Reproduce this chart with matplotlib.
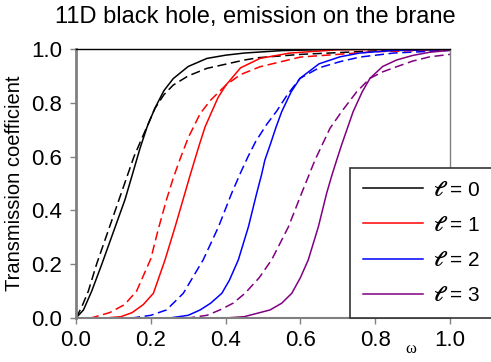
import matplotlib
matplotlib.use("Agg")
import matplotlib.pyplot as plt
from matplotlib.lines import Line2D

plt.rcParams["font.family"] = ["Liberation Sans", "DejaVu Sans"]
plt.rcParams["mathtext.fontset"] = "dejavuserif"

# ---- data (omega, transmission) ----
# solid = one set of curves, dashed = the other, per angular momentum l
l0_w = [0, 0.02, 0.042, 0.069, 0.1, 0.131, 0.15, 0.171, 0.19, 0.211, 0.235,
        0.26, 0.3, 0.35, 0.4, 0.45, 0.55, 0.7, 1.0]
l0_t = [0, 0.03, 0.1, 0.2, 0.32, 0.44, 0.53, 0.63, 0.71, 0.78, 0.845,
        0.89, 0.935, 0.965, 0.977, 0.985, 0.994, 0.999, 1.0]
l0d_w = [0, 0.015, 0.033, 0.055, 0.08, 0.105, 0.13, 0.155, 0.18, 0.211, 0.235,
         0.26, 0.3, 0.35, 0.45, 0.49, 0.6, 0.8, 1.0]
l0d_t = [0, 0.04, 0.1, 0.2, 0.3, 0.4, 0.5, 0.6, 0.68, 0.779, 0.83,
         0.866, 0.9, 0.928, 0.959, 0.968, 0.98, 0.993, 0.998]

l1_w = [0, 0.08, 0.12, 0.15, 0.18, 0.207, 0.238, 0.265, 0.291, 0.305, 0.318,
        0.33, 0.345, 0.363, 0.38, 0.401, 0.44, 0.492, 0.572, 0.7, 1.0]
l1_t = [0, 0, 0.005, 0.02, 0.05, 0.092, 0.216, 0.339, 0.463, 0.53, 0.59,
        0.645, 0.71, 0.767, 0.82, 0.866, 0.93, 0.965, 0.985, 0.997, 1.0]
l1d_w = [0, 0.04, 0.09, 0.13, 0.162, 0.2, 0.22, 0.242, 0.26, 0.278, 0.3,
         0.332, 0.36, 0.401, 0.44, 0.492, 0.6, 0.8, 1.0]
l1d_t = [0, 0, 0.02, 0.05, 0.1, 0.22, 0.33, 0.44, 0.52, 0.59, 0.67,
         0.76, 0.81, 0.866, 0.905, 0.934, 0.97, 0.99, 0.997]

l2_w = [0, 0.25, 0.3, 0.332, 0.36, 0.39, 0.41, 0.434, 0.461, 0.483, 0.496,
        0.505, 0.519, 0.535, 0.55, 0.575, 0.599, 0.65, 0.706, 0.759, 0.85, 1.0]
l2_t = [0, 0, 0.01, 0.03, 0.055, 0.092, 0.14, 0.216, 0.339, 0.463, 0.532,
        0.587, 0.643, 0.71, 0.767, 0.84, 0.891, 0.945, 0.971, 0.985, 0.995, 1.0]
l2d_w = [0, 0.15, 0.2, 0.242, 0.287, 0.34, 0.381, 0.416, 0.44, 0.46, 0.48,
         0.51, 0.537, 0.565, 0.599, 0.65, 0.706, 0.759, 0.85, 1.0]
l2d_t = [0, 0, 0.01, 0.03, 0.092, 0.216, 0.339, 0.463, 0.54, 0.6, 0.655,
         0.72, 0.77, 0.83, 0.891, 0.93, 0.953, 0.97, 0.985, 0.995]

l3_w = [0, 0.4, 0.45, 0.519, 0.55, 0.577, 0.6, 0.621, 0.648, 0.67, 0.684,
        0.697, 0.71, 0.741, 0.765, 0.786, 0.82, 0.857, 0.9, 0.946, 1.0]
l3_t = [0, 0, 0.005, 0.03, 0.055, 0.092, 0.15, 0.216, 0.339, 0.463, 0.53,
        0.587, 0.643, 0.767, 0.84, 0.891, 0.935, 0.959, 0.976, 0.988, 0.995]
l3d_w = [0, 0.3, 0.35, 0.385, 0.42, 0.452, 0.49, 0.523, 0.568, 0.603, 0.639,
         0.679, 0.71, 0.75, 0.786, 0.82, 0.857, 0.9, 0.946, 1.0]
l3d_t = [0, 0, 0.01, 0.03, 0.055, 0.092, 0.15, 0.216, 0.339, 0.463, 0.587,
         0.705, 0.767, 0.84, 0.891, 0.915, 0.934, 0.955, 0.971, 0.98]

labels = [r"$\mathbf{\ell}$ = 0", r"$\mathbf{\ell}$ = 1",
          r"$\mathbf{\ell}$ = 2", r"$\mathbf{\ell}$ = 3"]
colors = ["black", "#ff0000", "#0000ff", "#800080"]
x_ticks = [0.0, 0.2, 0.4, 0.6, 0.8, 1.0]
y_ticks = [0.0, 0.2, 0.4, 0.6, 0.8, 1.0]

solid = [(l0_w, l0_t), (l1_w, l1_t), (l2_w, l2_t), (l3_w, l3_t)]
dashed = [(l0d_w, l0d_t), (l1d_w, l1d_t), (l2d_w, l2d_t), (l3d_w, l3d_t)]

fig = plt.figure(figsize=(4.91, 3.62), dpi=100)
ax = fig.add_axes([76 / 491, 1 - 318 / 362, 374 / 491, 269 / 362])

for (w, t), (wd, td), c in zip(solid, dashed, colors):
    ax.plot(w, t, color=c, lw=1.1)
    ax.plot(wd, td, color=c, lw=1.1, dashes=(6, 3))

ax.set_xlim(0, 1)
ax.set_ylim(0, 1)
ax.set_xticks(x_ticks)
ax.set_yticks(y_ticks)
ax.set_xticklabels([f"{v:.1f}" for v in x_ticks])
ax.set_yticklabels([f"{v:.1f}" for v in y_ticks])
ax.tick_params(axis="both", labelsize=16, color="#808080", length=4, width=1)
ax.tick_params(axis="y", pad=6)
ax.tick_params(axis="x", pad=5)

ax.spines["top"].set_color("black")
ax.spines["top"].set_linewidth(1)
ax.spines["right"].set_color("#808080")
ax.spines["right"].set_linewidth(1)
ax.spines["left"].set_color("#808080")
ax.spines["left"].set_linewidth(2)
ax.spines["bottom"].set_color("#808080")
ax.spines["bottom"].set_linewidth(1.5)

ax.set_ylabel("Transmission coefficient", fontsize=14.5, labelpad=5)
fig.text(255 / 491, 1 - 17 / 362, "11D black hole, emission on the brane",
         ha="center", va="center", fontsize=17)
ax.text(0.896, -0.115, "ω", transform=ax.transAxes, ha="center", va="center",
        fontsize=12, family=["Liberation Serif", "DejaVu Serif"])

handles = [Line2D([], [], color=c, lw=1.1) for c in colors]
leg = fig.legend(handles, labels, loc="upper left",
                 bbox_to_anchor=(350 / 491, 1 - 168 / 362), borderaxespad=0,
                 fontsize=15, handlelength=2.9, handletextpad=0.5,
                 labelspacing=0.78, borderpad=0.6, fancybox=False,
                 framealpha=1)
leg.get_frame().set_edgecolor("#333333")
leg.get_frame().set_linewidth(1.2)

fig.savefig("out.png", dpi=100)
